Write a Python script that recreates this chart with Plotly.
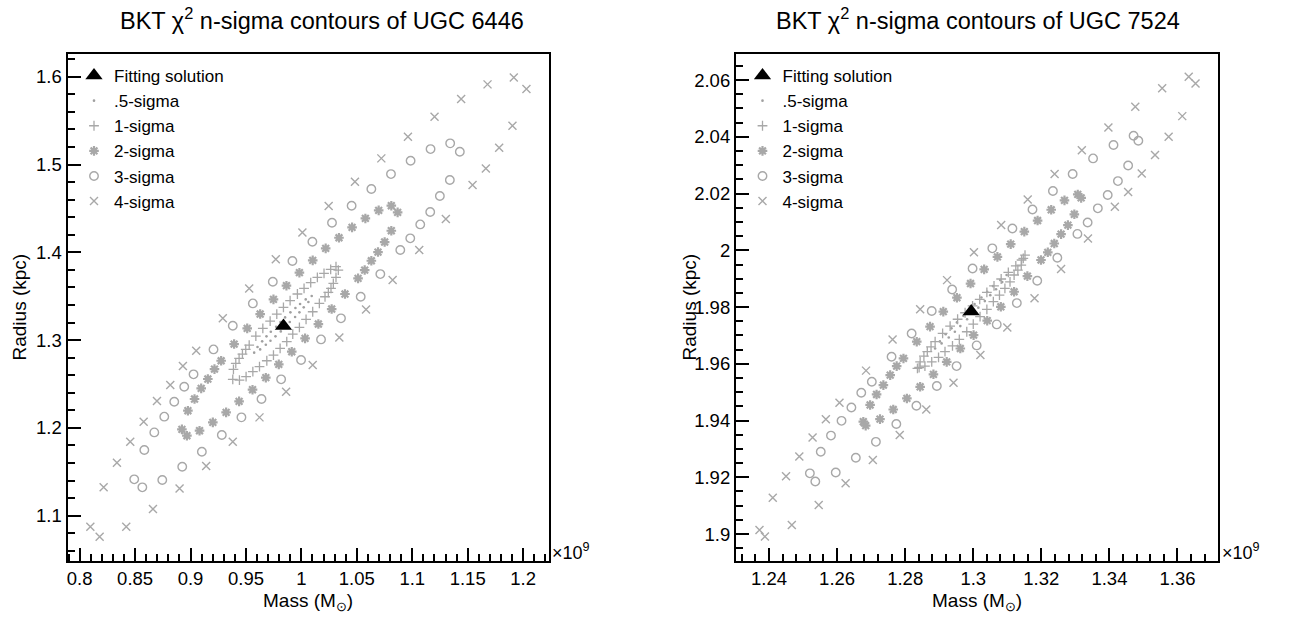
import plotly.graph_objects as go

# ---------------- UGC 6446 (mass in 1e9 Msun, radius in kpc) ----------------
u6446_fit_mass = [0.9838]
u6446_fit_radius = [1.3160]

u6446_s05_mass = [0.9574, 0.9604, 0.9646, 0.9685, 0.9724, 0.9772, 0.9811, 0.9853, 0.9901, 0.9946, 0.9988, 1.0039, 1.0093,
                  1.0063, 1.0021, 0.9982, 0.9943, 0.9895, 0.9856, 0.9814, 0.9766, 0.9721, 0.9679, 0.9628]
u6446_s05_radius = [1.2857, 1.2921, 1.2986, 1.3043, 1.3096, 1.3153, 1.3206, 1.3259, 1.3316, 1.3365, 1.3411, 1.3464, 1.3502,
                    1.3434, 1.3373, 1.3316, 1.3263, 1.3206, 1.3153, 1.3099, 1.3043, 1.2993, 1.2948, 1.2894]

u6446_s1_mass = [0.9387, 0.9408, 0.9438, 0.9468, 0.9498, 0.9529, 0.9589, 0.9652, 0.9718, 0.9778, 0.9838, 0.9898, 0.9964,
                 1.0024, 1.0084, 1.0144, 1.0204, 1.0264, 1.0312, 1.0333,
                 0.9381, 0.9441, 0.9501, 0.9562, 0.9622, 0.9688, 0.9748, 0.9808, 0.9868, 0.9922, 0.9982, 1.0042,
                 1.0102, 1.0162, 1.0213, 1.0243, 1.0267, 1.0288, 1.0312]
u6446_s1_radius = [1.2667, 1.2735, 1.2792, 1.2841, 1.2894, 1.2944, 1.3046, 1.3134, 1.3217, 1.3297, 1.3373, 1.3449, 1.3525,
                   1.3589, 1.3654, 1.3714, 1.3760, 1.3806, 1.3836, 1.3798,
                   1.2553, 1.2545, 1.2583, 1.2640, 1.2697, 1.2765, 1.2830, 1.2906, 1.2982, 1.3069, 1.3145, 1.3236,
                   1.3323, 1.3418, 1.3494, 1.3544, 1.3589, 1.3646, 1.3714]

u6446_s2_mass = [0.8922, 0.8976, 0.9036, 0.9096, 0.9156, 0.9216, 0.9276, 0.9393, 0.9511, 0.9628, 0.9748, 0.9865, 0.9982,
                 1.0102, 1.0219, 1.0339, 1.0457, 1.0577, 1.0697, 1.0811, 1.0868,
                 0.8967, 0.9081, 0.9201, 0.9321, 0.9438, 0.9559, 0.9679, 0.9796, 0.9913, 1.0033, 1.0153, 1.0273,
                 1.0393, 1.0511, 1.0571, 1.0631, 1.0691, 1.0751, 1.0811]
u6446_s2_radius = [1.1983, 1.2196, 1.2329, 1.2450, 1.2557, 1.2670, 1.2765, 1.2955, 1.3134, 1.3297, 1.3464, 1.3620, 1.3768,
                   1.3908, 1.4045, 1.4166, 1.4284, 1.4386, 1.4478, 1.4531, 1.4455,
                   1.1911, 1.1968, 1.2063, 1.2177, 1.2302, 1.2435, 1.2572, 1.2724, 1.2868, 1.3020, 1.3183, 1.3354,
                   1.3525, 1.3703, 1.3798, 1.3904, 1.4003, 1.4117, 1.4246]

u6446_s3_mass = [0.8492, 0.8583, 0.8673, 0.8763, 0.8853, 0.8943, 0.9027, 0.9207, 0.9381, 0.9562, 0.9742, 0.9919, 1.0099,
                 1.0276, 1.0453, 1.0631, 1.0808, 1.0985, 1.1165, 1.1342, 1.1429,
                 0.8565, 0.8745, 0.8925, 0.9102, 0.9282, 0.9459, 0.9640, 0.9817, 0.9997, 1.0177, 1.0357, 1.0535,
                 1.0712, 1.0892, 1.0982, 1.1072, 1.1162, 1.1249, 1.1339]
u6446_s3_radius = [1.1414, 1.1748, 1.1949, 1.2128, 1.2298, 1.2469, 1.2610, 1.2894, 1.3164, 1.3418, 1.3665, 1.3901, 1.4121,
                   1.4337, 1.4531, 1.4721, 1.4891, 1.5043, 1.5176, 1.5241, 1.5146,
                   1.1323, 1.1406, 1.1558, 1.1729, 1.1919, 1.2120, 1.2329, 1.2553, 1.2773, 1.3008, 1.3248, 1.3494,
                   1.3752, 1.4026, 1.4159, 1.4318, 1.4459, 1.4641, 1.4823]

u6446_s4_mass = [0.8096, 0.8180, 0.8216, 0.8336, 0.8456, 0.8577, 0.8697, 0.8817, 0.8931, 0.9051, 0.9291, 0.9529, 0.9769,
                 1.0009, 1.0246, 1.0483, 1.0721, 1.0961, 1.1201, 1.1441, 1.1679, 1.1916, 1.2030,
                 0.8420, 0.8661, 0.8901, 0.9141, 0.9381, 0.9622, 0.9862, 1.0102, 1.0342, 1.0583, 1.0823, 1.1063,
                 1.1303, 1.1544, 1.1664, 1.1784, 1.1904]
u6446_s4_radius = [1.0875, 1.0761, 1.1323, 1.1604, 1.1843, 1.2071, 1.2306, 1.2488, 1.2705, 1.2879, 1.3248, 1.3589, 1.3920,
                   1.4227, 1.4527, 1.4804, 1.5070, 1.5317, 1.5544, 1.5746, 1.5913, 1.5992, 1.5860,
                   1.0875, 1.1076, 1.1311, 1.1566, 1.1843, 1.2120, 1.2412, 1.2716, 1.3031, 1.3350, 1.3684, 1.4026,
                   1.4379, 1.4766, 1.4956, 1.5191, 1.5442]

# ---------------- UGC 7524 ----------------
u7524_fit_mass = [1.2994]
u7524_fit_radius = [1.9784]

u7524_s05_mass = [1.2888, 1.2902, 1.2919, 1.2936, 1.2952, 1.2971, 1.2988, 1.3004, 1.3024, 1.3041, 1.3058, 1.3079, 1.3098,
                  1.3085, 1.3067, 1.3050, 1.3034, 1.3015, 1.2998, 1.2982, 1.2962, 1.2946, 1.2928, 1.2907]
u7524_s05_radius = [1.9654, 1.9679, 1.9704, 1.9725, 1.9746, 1.9769, 1.9791, 1.9811, 1.9834, 1.9854, 1.9874, 1.9895, 1.9913,
                    1.9888, 1.9863, 1.9842, 1.9821, 1.9798, 1.9777, 1.9757, 1.9733, 1.9713, 1.9693, 1.9672]

u7524_s1_mass = [1.2836, 1.2844, 1.2855, 1.2865, 1.2876, 1.2888, 1.2910, 1.2932, 1.2954, 1.2976, 1.2998, 1.3019, 1.3040,
                 1.3061, 1.3082, 1.3103, 1.3125, 1.3142, 1.3152,
                 1.2841, 1.2858, 1.2878, 1.2898, 1.2917, 1.2939, 1.2959, 1.2981, 1.3000, 1.3020, 1.3040, 1.3059,
                 1.3077, 1.3093, 1.3108, 1.3120, 1.3131, 1.3141, 1.3147]
u7524_s1_radius = [1.9584, 1.9607, 1.9627, 1.9643, 1.9660, 1.9678, 1.9707, 1.9733, 1.9757, 1.9780, 1.9804, 1.9827, 1.9852,
                   1.9875, 1.9899, 1.9922, 1.9945, 1.9966, 1.9983,
                   1.9587, 1.9592, 1.9607, 1.9623, 1.9643, 1.9663, 1.9686, 1.9713, 1.9740, 1.9766, 1.9792, 1.9819,
                   1.9842, 1.9866, 1.9889, 1.9913, 1.9930, 1.9948, 1.9972]

u7524_s2_mass = [1.2677, 1.2697, 1.2716, 1.2736, 1.2756, 1.2775, 1.2795, 1.2834, 1.2873, 1.2912, 1.2952, 1.2992, 1.3032,
                 1.3071, 1.3110, 1.3150, 1.3189, 1.3229, 1.3268, 1.3307, 1.3317,
                 1.2684, 1.2726, 1.2765, 1.2805, 1.2844, 1.2883, 1.2922, 1.2962, 1.3001, 1.3041, 1.3081, 1.3120,
                 1.3159, 1.3199, 1.3219, 1.3238, 1.3258, 1.3278, 1.3297]
u7524_s2_radius = [1.9396, 1.9455, 1.9492, 1.9525, 1.9560, 1.9592, 1.9619, 1.9678, 1.9731, 1.9784, 1.9833, 1.9883, 1.9933,
                   1.9977, 2.0022, 2.0066, 2.0105, 2.0143, 2.0176, 2.0197, 2.0185,
                   1.9382, 1.9405, 1.9439, 1.9478, 1.9519, 1.9563, 1.9607, 1.9654, 1.9701, 1.9752, 1.9801, 1.9854,
                   1.9909, 1.9966, 1.9993, 2.0024, 2.0057, 2.0089, 2.0127]

u7524_s3_mass = [1.2520, 1.2552, 1.2582, 1.2613, 1.2642, 1.2671, 1.2702, 1.2760, 1.2819, 1.2878, 1.2938, 1.2998, 1.3056,
                 1.3115, 1.3174, 1.3234, 1.3292, 1.3352, 1.3412, 1.3471, 1.3485,
                 1.2536, 1.2596, 1.2655, 1.2714, 1.2774, 1.2833, 1.2893, 1.2951, 1.3010, 1.3069, 1.3128, 1.3188,
                 1.3247, 1.3306, 1.3336, 1.3366, 1.3395, 1.3425, 1.3455]
u7524_s3_radius = [1.9214, 1.9290, 1.9347, 1.9399, 1.9446, 1.9498, 1.9537, 1.9625, 1.9707, 1.9786, 1.9862, 1.9936, 2.0007,
                   2.0077, 2.0144, 2.0209, 2.0269, 2.0324, 2.0371, 2.0404, 2.0386,
                   1.9185, 1.9217, 1.9269, 1.9325, 1.9388, 1.9452, 1.9522, 1.9592, 1.9665, 1.9739, 1.9814, 1.9893,
                   1.9974, 2.0058, 2.0098, 2.0148, 2.0195, 2.0244, 2.0299]

u7524_s4_mass = [1.2372, 1.2411, 1.2450, 1.2489, 1.2528, 1.2567, 1.2607, 1.2685, 1.2763, 1.2844, 1.2923, 1.3002, 1.3082,
                 1.3160, 1.3239, 1.3319, 1.3397, 1.3476, 1.3555, 1.3633, 1.3653,
                 1.2388, 1.2467, 1.2546, 1.2625, 1.2705, 1.2784, 1.2862, 1.2942, 1.3021, 1.3100, 1.3180, 1.3258,
                 1.3337, 1.3416, 1.3455, 1.3495, 1.3534, 1.3574, 1.3614]
u7524_s4_radius = [1.9014, 1.9128, 1.9204, 1.9273, 1.9340, 1.9405, 1.9463, 1.9576, 1.9686, 1.9792, 1.9895, 1.9993, 2.0089,
                   2.0179, 2.0269, 2.0353, 2.0433, 2.0506, 2.0571, 2.0612, 2.0588,
                   1.8991, 1.9032, 1.9102, 1.9179, 1.9261, 1.9349, 1.9439, 1.9533, 1.9631, 1.9728, 1.9831, 1.9934,
                   2.0042, 2.0154, 2.0206, 2.0271, 2.0336, 2.0400, 2.0473]

legend_labels = ["Fitting solution", ".5-sigma", "1-sigma", "2-sigma", "3-sigma", "4-sigma"]
titles = ["BKT \u03c7<sup>2</sup> n-sigma contours of UGC 6446",
          "BKT \u03c7<sup>2</sup> n-sigma contours of UGC 7524"]

FONT = "Liberation Sans, Arial, Helvetica, sans-serif"
GRAY = "#a8a8a8"

styles = [
    dict(symbol="circle", size=2.6, color="#a0a0a0", line=dict(width=0)),
    dict(symbol="cross-thin", size=7, color=GRAY, line=dict(width=1.3, color=GRAY)),
    dict(symbol="asterisk", size=8, color=GRAY, line=dict(width=2.2, color=GRAY)),
    dict(symbol="circle-open", size=8.5, color=GRAY, line=dict(width=1.4, color=GRAY)),
    dict(symbol="x-thin", size=8, color=GRAY, line=dict(width=1.4, color=GRAY)),
]

fig = go.Figure()

panels = [
    ("x", "y", "legend", [
        (u6446_s05_mass, u6446_s05_radius), (u6446_s1_mass, u6446_s1_radius),
        (u6446_s2_mass, u6446_s2_radius), (u6446_s3_mass, u6446_s3_radius),
        (u6446_s4_mass, u6446_s4_radius)], (u6446_fit_mass, u6446_fit_radius)),
    ("x2", "y2", "legend2", [
        (u7524_s05_mass, u7524_s05_radius), (u7524_s1_mass, u7524_s1_radius),
        (u7524_s2_mass, u7524_s2_radius), (u7524_s3_mass, u7524_s3_radius),
        (u7524_s4_mass, u7524_s4_radius)], (u7524_fit_mass, u7524_fit_radius)),
]

for xa, ya, lg, series, fit in panels:
    for i, (mx, ry) in enumerate(series):
        fig.add_trace(go.Scatter(x=mx, y=ry, mode="markers", name=legend_labels[i + 1],
                                 marker=styles[i], xaxis=xa, yaxis=ya, legend=lg,
                                 legendrank=i + 2))
    fig.add_trace(go.Scatter(x=fit[0], y=fit[1], mode="markers", name=legend_labels[0],
                             marker=dict(symbol="triangle-up", size=15, color="black"),
                             xaxis=xa, yaxis=ya, legend=lg, legendrank=1))

W, H = 1313, 621
xdom1 = [67.5 / W, 548.5 / W]
xdom2 = [736 / W, 1218 / W]
ydom = [(H - 561) / H, (H - 54) / H]
rx1, ry1 = [0.789, 1.2229], [1.0484, 1.6259]
rx2, ry2 = [1.2303, 1.3719], [1.8905, 2.0692]


def axis(dom, rng, dtick, minor_dtick, anchor):
    return dict(domain=dom, range=rng, tickmode="linear", dtick=dtick, tick0=0,
                ticks="inside", ticklen=13, tickwidth=2, tickcolor="black",
                showline=True, linecolor="black", linewidth=2.2, mirror=True,
                showgrid=False, zeroline=False, anchor=anchor,
                tickfont=dict(family=FONT, size=18.5, color="black"),
                minor=dict(ticks="inside", ticklen=7, tickmode="linear", dtick=minor_dtick,
                           tick0=0, tickcolor="black", tickwidth=1.6, showgrid=False))


fig.update_layout(
    template="none",
    width=W, height=H, margin=dict(l=0, r=0, t=0, b=0, pad=0),
    plot_bgcolor="white", paper_bgcolor="white",
    font=dict(family=FONT, size=17, color="black"),
    xaxis=axis(xdom1, rx1, 0.05, 0.01, "y"),
    yaxis=axis(ydom, ry1, 0.1, 0.02, "x"),
    xaxis2=axis(xdom2, rx2, 0.02, 0.004, "y2"),
    yaxis2=axis(ydom, ry2, 0.02, 0.005, "x2"),
    legend=dict(x=74 / W, y=(H - 58) / H, xanchor="left", yanchor="top",
                bgcolor="rgba(0,0,0,0)", borderwidth=0, font=dict(family=FONT, size=17),
                itemwidth=30, tracegroupgap=0, itemsizing="trace"),
    legend2=dict(x=742.5 / W, y=(H - 58) / H, xanchor="left", yanchor="top",
                 bgcolor="rgba(0,0,0,0)", borderwidth=0, font=dict(family=FONT, size=17),
                 itemwidth=30, tracegroupgap=0, itemsizing="trace"),
    showlegend=True,
)

ann = []
for cx, t in [(322, titles[0]), (978, titles[1])]:
    ann.append(dict(text=t, x=cx / W, y=(H - 19) / H, xref="paper", yref="paper",
                    xanchor="center", yanchor="middle", showarrow=False,
                    font=dict(family=FONT, size=23.5, color="black")))
for cx in [(67.5 + 548.5) / 2, (736 + 1218) / 2]:
    ann.append(dict(text="Mass (M<sub>\u2299</sub>)", x=cx / W, y=(H - 602) / H, xref="paper",
                    yref="paper", xanchor="center", yanchor="middle", showarrow=False,
                    font=dict(family=FONT, size=19, color="black")))
for cx in [19, 689]:
    ann.append(dict(text="Radius (kpc)", x=cx / W, y=(H - 307.5) / H, xref="paper", yref="paper",
                    xanchor="center", yanchor="middle", textangle=-90, showarrow=False,
                    font=dict(family=FONT, size=19, color="black")))
for lx in [550, 1220]:
    ann.append(dict(text="\u00d710<sup>9</sup>", x=lx / W, y=(H - 551) / H, xref="paper",
                    yref="paper", xanchor="left", yanchor="middle", showarrow=False,
                    font=dict(family=FONT, size=18, color="black")))
fig.update_layout(annotations=ann)

fig.write_html("out.html")
